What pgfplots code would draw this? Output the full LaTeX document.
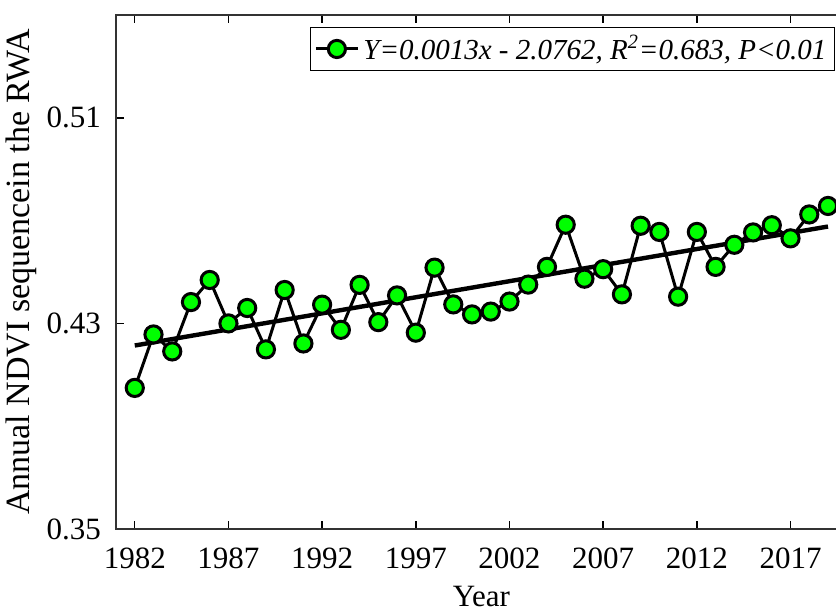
\documentclass[border=0pt]{standalone}
\usepackage{fontspec}
\setmainfont{Liberation Serif}
\usepackage{pgfplots}
\pgfplotsset{compat=1.18}
\definecolor{mkgreen}{RGB}{0,255,0}
\newcommand{\fsz}{\fontsize{15.5}{18}\selectfont}
\begin{document}
\begin{tikzpicture}
\begin{axis}[
  scale only axis=true,
  width=365.35pt, height=257pt,
  xmin=1981, xmax=2020,
  ymin=0.35, ymax=0.55,
  xtick={1982,1987,1992,1997,2002,2007,2012,2017},
  ytick={0.35,0.43,0.51},
  tick align=inside,
  major tick length=4.2pt,
  tick style={black, line width=0.7pt},
  axis line style={line width=0.75pt, draw=black!80},
  /pgf/number format/assume math mode=true,
  x tick label style={/pgf/number format/1000 sep={}, font=\fsz, yshift=-6pt},
  y tick label style={/pgf/number format/fixed, /pgf/number format/fixed zerofill, /pgf/number format/precision=2, font=\fsz, xshift=-4pt},
  xlabel={Year},
  ylabel={Annual NDVI sequencein the RWA},
  xlabel style={font=\fsz, yshift=-1.5pt},
  ylabel style={font=\fontsize{17}{20}\selectfont, yshift=-2pt},
  legend style={at={(rel axis cs:0.984,0.977)}, anchor=north east, draw=black, line width=0.7pt, font=\fontsize{14.5}{17}\selectfont\itshape, inner sep=2pt},
  legend image code/.code={\draw[mark repeat=2,mark phase=2,#1] plot coordinates {(0pt,0pt)(10.5pt,0pt)(21pt,0pt)};},
]
\addplot[black, line width=1.5pt, mark=*, mark size=4.3pt, mark options={fill=mkgreen, draw=black, line width=1.5pt}] coordinates {
(1982,0.4049)(1983,0.4257)(1984,0.4191)(1985,0.4383)(1986,0.4469)
(1987,0.4300)(1988,0.4360)(1989,0.4199)(1990,0.4430)(1991,0.4222)
(1992,0.4373)(1993,0.4275)(1994,0.4450)(1995,0.4305)(1996,0.4409)
(1997,0.4264)(1998,0.4517)(1999,0.4374)(2000,0.4335)(2001,0.4346)
(2002,0.4385)(2003,0.4451)(2004,0.4520)(2005,0.4684)(2006,0.4474)
(2007,0.4511)(2008,0.4413)(2009,0.4680)(2010,0.4656)(2011,0.4404)
(2012,0.4656)(2013,0.4520)(2014,0.4606)(2015,0.4654)(2016,0.4682)
(2017,0.4631)(2018,0.4724)(2019,0.4757)
};
\addlegendentry{Y=0.0013x - 2.0762, R\textsuperscript{2}=0.683, P<0.01}
\addplot[black, line width=2.2pt, forget plot] coordinates {(1982,0.4214)(2019,0.4677)};
\coordinate (BL) at (rel axis cs:-0.1588,-0.1634);
\coordinate (TR) at (rel axis cs:0.9853,1.0292);
\end{axis}
\pgfresetboundingbox
\path[use as bounding box] (BL) rectangle (TR);
\end{tikzpicture}
\end{document}
